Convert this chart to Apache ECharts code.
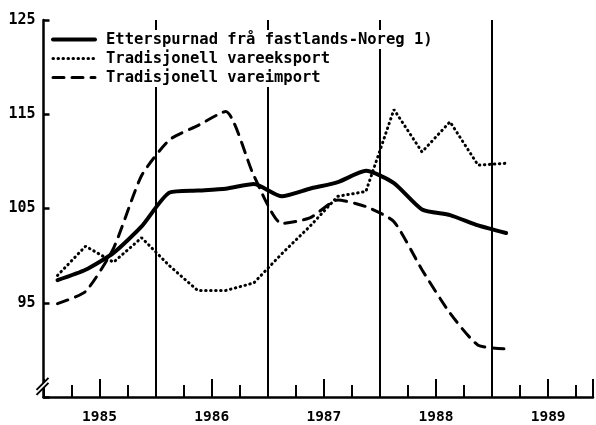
<!DOCTYPE html>
<html>
<head>
<meta charset="utf-8">
<script src="https://cdn.jsdelivr.net/npm/echarts@6/dist/echarts.min.js"></script>
<style>html,body{margin:0;padding:0;background:#fff}#c{width:596px;height:425px}</style>
</head>
<body>
<div id="c"></div>
<script>
// Quarterly periods (data plotted at quarter midpoints)
const periods = ['1985K1','1985K2','1985K3','1985K4','1986K1','1986K2','1986K3','1986K4',
                 '1987K1','1987K2','1987K3','1987K4','1988K1','1988K2','1988K3','1988K4','1989K1'];
const seriesNames = ['Etterspurnad frå fastlands-Noreg 1)', 'Tradisjonell vareeksport', 'Tradisjonell vareimport'];
const etterspurnad = [97.4, 98.5, 100.3, 103.1, 106.7, 106.9, 107.1, 107.6, 106.3, 107.1, 107.8, 109.0, 107.7, 104.9, 104.3, 103.2, 102.4];
const vareeksport  = [97.9, 101.0, 99.3, 101.9, 98.9, 96.3, 96.3, 97.1, 100.2, 103.1, 106.3, 106.8, 115.5, 111.0, 114.2, 109.6, 109.8];
const vareimport   = [94.9, 96.2, 100.8, 108.5, 112.3, 113.8, 115.3, 108.5, 103.4, 104.0, 105.9, 105.2, 103.6, 98.5, 93.9, 90.5, 90.1];
const yearBoundaries = [1986, 1987, 1988, 1989];
const yTicks = [95, 105, 115, 125];
const axisBreakValue = 86.5;

const xPos = periods.map(p => +p.slice(0, 4) + (+p.slice(5) - 0.5) / 4);
const pairs = arr => arr.map((v, i) => [xPos[i], v]);

const MONO = '"DejaVu Sans Mono", "Liberation Mono", monospace';
const lineStyles = [
  {color: '#000', width: 4, cap: 'round', join: 'round'},
  {color: '#000', width: 3, type: [0.5, 4.5], cap: 'round'},
  {color: '#000', width: 3, type: [11, 8], cap: 'round'}
];
const chart = echarts.init(document.getElementById('c'), null, {renderer: 'canvas'});

chart.setOption({
  animation: false,
  backgroundColor: '#fff',
  grid: {left: 43.5, right: 1.7, top: 20, bottom: 28, containLabel: false},
  legend: {
    orient: 'vertical', left: 46, top: 25, z: 100, zlevel: 1,
    itemWidth: 42, itemHeight: 19, itemGap: 0,
    selectedMode: false,
    data: seriesNames.map((n, i) => ({name: n, lineStyle: Object.assign({}, lineStyles[i])})),
    itemStyle: {opacity: 0},
    formatter: n => '{t|' + n + '}',
    textStyle: {
      rich: {
        t: {
          fontFamily: MONO, fontWeight: 'bold', fontSize: 15.5, color: '#000',
          backgroundColor: '#fff', height: 19, lineHeight: 19, padding: [0, 2, 0, 6]
        }
      }
    }
  },
  xAxis: {
    type: 'value', min: 1985, max: 1989.9, interval: 0.5,
    axisLine: {show: true, onZero: false, lineStyle: {color: '#000', width: 2.5}},
    axisTick: {show: true, inside: true, length: 18, lineStyle: {color: '#000', width: 2}},
    minorTick: {show: true, splitNumber: 2, length: 12, lineStyle: {color: '#000', width: 2}},
    splitLine: {show: false},
    axisLabel: {
      margin: 13, fontFamily: MONO, fontWeight: 'bold', fontSize: 14.5, color: '#000',
      showMinLabel: true, showMaxLabel: true,
      formatter: v => Math.abs(v - Math.floor(v) - 0.5) < 1e-6 ? String(Math.floor(v)) : ''
    }
  },
  yAxis: {
    type: 'value', min: 85, max: 125, interval: 10,
    axisLine: {show: true, lineStyle: {color: '#000', width: 2.5}},
    axisTick: {show: true, inside: true, length: 6, lineStyle: {color: '#000', width: 2.5}},
    splitLine: {show: false},
    axisLabel: {
      margin: 8, fontFamily: MONO, fontWeight: 'bold', fontSize: 15, color: '#000',
      formatter: v => yTicks.includes(v) ? String(v) : ''
    }
  },
  series: [
    {
      name: seriesNames[0], type: 'line', data: pairs(etterspurnad),
      symbol: 'none', smooth: 0.2, z: 3, lineStyle: lineStyles[0],
      markLine: {
        silent: true, symbol: 'none', label: {show: false},
        lineStyle: {color: '#000', width: 2, type: 'solid'},
        data: yearBoundaries.map(y => ({xAxis: y}))
      }
    },
    {
      name: seriesNames[1], type: 'line', data: pairs(vareeksport),
      symbol: 'none', smooth: false, z: 3, lineStyle: lineStyles[1]
    },
    {
      name: seriesNames[2], type: 'line', data: pairs(vareimport),
      symbol: 'none', smooth: 0.2, z: 3, lineStyle: lineStyles[2]
    }
  ]
});

// axis break marks on the y axis
const bx = chart.convertToPixel({xAxisIndex: 0}, 1985);
const by = chart.convertToPixel({yAxisIndex: 0}, axisBreakValue);
chart.setOption({
  graphic: [
    {type: 'polygon', z: 100, shape: {points: [[bx - 6, by + 6], [bx + 6, by - 6], [bx + 6, by - 1], [bx - 6, by + 11]]}, style: {fill: '#fff'}},
    {type: 'line', z: 101, shape: {x1: bx - 7, y1: by + 7, x2: bx + 5, y2: by - 5}, style: {stroke: '#000', lineWidth: 2}},
    {type: 'line', z: 101, shape: {x1: bx - 7, y1: by + 12, x2: bx + 5, y2: by}, style: {stroke: '#000', lineWidth: 2}}
  ]
});
</script>
</body>
</html>
